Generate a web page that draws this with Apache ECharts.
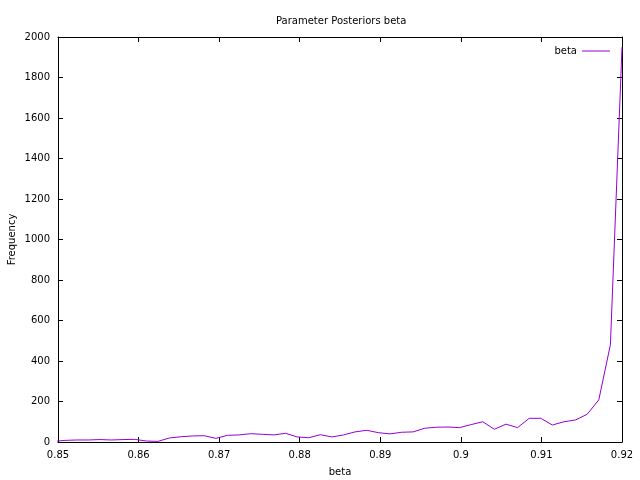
<!DOCTYPE html>
<html>
<head>
  <meta charset="utf-8">
  <script type="text/javascript" src="https://cdn.jsdelivr.net/npm/echarts@6/dist/echarts.min.js"></script>
</head>
<body style="margin:0">
<div id="main" style="width: 640px; height: 480px"></div>
<script>
  // posterior samples binned
  const betaValues = [
    0.84944, 0.85088, 0.85232, 0.85376, 0.8552, 0.85664, 0.85808, 0.85952, 0.86096, 0.8624,
    0.86384, 0.86528, 0.86672, 0.86816, 0.8696, 0.87104, 0.87248, 0.87392, 0.87536, 0.8768,
    0.87824, 0.87968, 0.88112, 0.88256, 0.884, 0.88544, 0.88688, 0.88832, 0.88976, 0.8912,
    0.89264, 0.89408, 0.89552, 0.89696, 0.8984, 0.89984, 0.90128, 0.90272, 0.90416, 0.9056,
    0.90704, 0.90848, 0.90992, 0.91136, 0.9128, 0.91424, 0.91568, 0.91712, 0.91856, 0.92
  ];
  const frequencies = [
    3, 8, 10, 10, 12, 10, 12, 13, 5, 3,
    20, 26, 30, 31, 18, 33, 35, 41, 38, 35,
    43, 25, 21, 36, 25, 35, 50, 58, 46, 40,
    48, 50, 68, 73, 74, 71, 86, 100, 63, 88,
    71, 117, 117, 84, 100, 109, 137, 208, 480, 1950
  ];
  const xTicks = { min: 0.85, max: 0.92, interval: 0.01 };
  const yTicks = { min: 0, max: 2000, interval: 200 };

  const font = 'DejaVu Sans';
  const myChart = echarts.init(document.getElementById('main'));

  const points = betaValues.map((b, i) => [b, frequencies[i]]);

  const tick = { show: true, inside: true, length: 5, lineStyle: { color: '#000' } };
  const line = { show: true, onZero: false, lineStyle: { color: '#000', width: 1 } };

  myChart.setOption({
    animation: false,
    backgroundColor: '#fff',
    textStyle: { fontFamily: font, color: '#000' },
    title: {
      text: 'Parameter Posteriors beta',
      left: 271,
      top: 11,
      textStyle: { fontSize: 10, fontWeight: 'normal', color: '#000', fontFamily: font }
    },
    legend: {
      data: ['beta'],
      right: 25,
      top: 41,
      align: 'right',
      itemWidth: 28,
      itemHeight: 1,
      itemGap: 6,
      icon: 'rect',
      textStyle: { fontSize: 10, color: '#000', fontFamily: font }
    },
    grid: { left: 58, right: 18, top: 37, bottom: 38, outerBoundsMode: 'none' },
    xAxis: [{
      type: 'value',
      min: xTicks.min,
      max: xTicks.max,
      interval: xTicks.interval,
      name: 'beta',
      nameLocation: 'middle',
      nameGap: 25,
      nameMoveOverlap: false,
      nameTextStyle: { fontSize: 10, color: '#000' },
      axisLine: line,
      axisTick: tick,
      splitLine: { show: false },
      axisLabel: {
        fontSize: 10, color: '#000', margin: 8,
        formatter: v => String(parseFloat(v.toFixed(2)))
      }
    }, {
      type: 'value',
      position: 'top',
      min: xTicks.min,
      max: xTicks.max,
      interval: xTicks.interval,
      axisLine: line,
      axisTick: tick,
      splitLine: { show: false },
      axisLabel: { show: false }
    }],
    yAxis: [{
      type: 'value',
      min: yTicks.min,
      max: yTicks.max,
      interval: yTicks.interval,
      name: 'Frequency',
      nameLocation: 'middle',
      nameGap: 41,
      nameMoveOverlap: false,
      nameTextStyle: { fontSize: 10, color: '#000' },
      axisLine: line,
      axisTick: tick,
      splitLine: { show: false },
      axisLabel: { fontSize: 10, color: '#000', margin: 8, formatter: v => String(v) }
    }, {
      type: 'value',
      position: 'right',
      min: yTicks.min,
      max: yTicks.max,
      interval: yTicks.interval,
      axisLine: line,
      axisTick: tick,
      splitLine: { show: false },
      axisLabel: { show: false }
    }],
    series: [{
      name: 'beta',
      type: 'line',
      data: points,
      showSymbol: false,
      clip: true,
      itemStyle: { color: '#9400d3' },
      lineStyle: { color: '#9400d3', width: 1 }
    }]
  });
</script>
</body>
</html>
